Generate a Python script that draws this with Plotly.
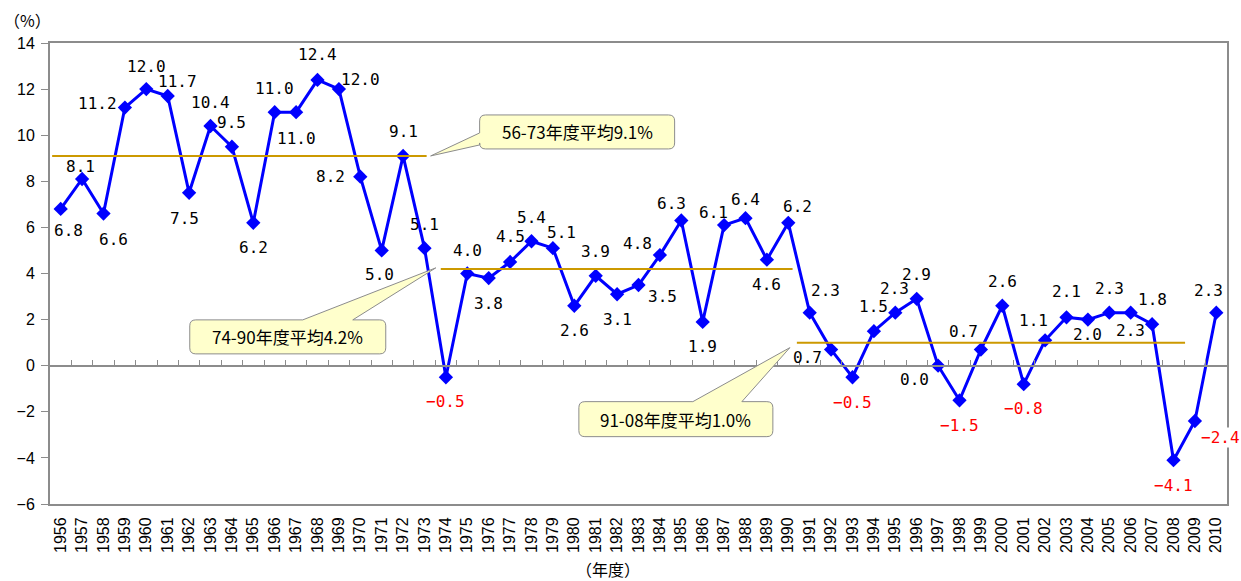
import plotly.graph_objects as go

# Real GDP growth rate by fiscal year (%)
fiscal_years = [
    1956, 1957, 1958, 1959, 1960, 1961, 1962, 1963, 1964, 1965,
    1966, 1967, 1968, 1969, 1970, 1971, 1972, 1973, 1974, 1975,
    1976, 1977, 1978, 1979, 1980, 1981, 1982, 1983, 1984, 1985,
    1986, 1987, 1988, 1989, 1990, 1991, 1992, 1993, 1994, 1995,
    1996, 1997, 1998, 1999, 2000, 2001, 2002, 2003, 2004, 2005,
    2006, 2007, 2008, 2009, 2010,
]
growth_rate = [
    6.8, 8.1, 6.6, 11.2, 12.0, 11.7, 7.5, 10.4, 9.5, 6.2,
    11.0, 11.0, 12.4, 12.0, 8.2, 5.0, 9.1, 5.1, -0.5, 4.0,
    3.8, 4.5, 5.4, 5.1, 2.6, 3.9, 3.1, 3.5, 4.8, 6.3,
    1.9, 6.1, 6.4, 4.6, 6.2, 2.3, 0.7, -0.5, 1.5, 2.3,
    2.9, 0.0, -1.5, 0.7, 2.6, -0.8, 1.1, 2.1, 2.0, 2.3,
    2.3, 1.8, -4.1, -2.4, 2.3,
]

# Period averages
period_first = [1956, 1974, 1991]
period_last = [1973, 1990, 2008]
period_means = [9.1, 4.2, 1.0]
period_texts = ["56-73年度平均9.1%", "74-90年度平均4.2%", "91-08年度平均1.0%"]

y_ticks = [-6, -4, -2, 0, 2, 4, 6, 8, 10, 12, 14]

# Value label placement: pixel offset (right, down) from each marker
label_offsets = [
    (8, 22), (-2, -13), (10, 26), (-27, -4), (0, -23), (10, -15), (-5, 26),
    (0, -23), (0, -24), (0, 25), (0, -24), (0, 26), (0, -25), (22, -10),
    (-30, 0), (-2, 24), (0, -24), (0, -24), (0, 24), (0, -23), (0, 25),
    (0, -25), (0, -24), (9, -16), (0, 25), (0, -24), (0, 25), (24, 11),
    (-22, -12), (-10, -17), (0, 25), (-11, -13), (0, -19), (0, 25), (9, -16),
    (16, -22), (-24, 8), (0, 25), (0, -25), (-1, -24), (0, -24), (-24, 14),
    (0, 25), (-17, -18), (0, -24), (0, 24), (-12, -20), (0, -26), (0, 15),
    (0, -24), (0, 18), (0, -25), (0, 25), (26, 16), (-8, -22),
]

# Average line extents (category units beyond first/last year)
line_pads = [(-0.4, 0.1), (-0.24, 0.2), (-0.6, 0.54)]

# Callout geometry in pixels relative to the anchor end of each average line
callouts = [
    dict(anchor="end", tip=(4, 0), box=(53, 248, 7, 41), side="left", base=(11, 23)),
    dict(anchor="start", tip=(-5, 1), box=(-251, -55, -85, -51), side="top", base=(-138, -88)),
    dict(anchor="start", tip=(-7, -5), box=(-218, -24, -94, -59), side="top", base=(-104, -55)),
]

LINE_BLUE = "#0000FF"
AVG_GOLD = "#CC9900"
FRAME_GRAY = "#8C8C8C"
CALLOUT_FILL = "#FFFFCC"
CJK_FONT = "Noto Sans CJK JP, Noto Sans CJK SC, sans-serif"

cats = [str(y) for y in fiscal_years]


def callout_path(c, r=6):
    L, R, B, T = c["box"]
    tx, ty = c["tip"]
    a, b = c["base"]
    if c["side"] == "left":
        return (
            f"M {L},{T - r} L {L},{b} L {tx},{ty} L {L},{a} L {L},{B + r} "
            f"Q {L},{B} {L + r},{B} L {R - r},{B} Q {R},{B} {R},{B + r} "
            f"L {R},{T - r} Q {R},{T} {R - r},{T} L {L + r},{T} Q {L},{T} {L},{T - r} Z"
        )
    return (
        f"M {L + r},{T} L {a},{T} L {tx},{ty} L {b},{T} L {R - r},{T} "
        f"Q {R},{T} {R},{T - r} L {R},{B + r} Q {R},{B} {R - r},{B} "
        f"L {L + r},{B} Q {L},{B} {L},{B + r} L {L},{T - r} Q {L},{T} {L + r},{T} Z"
    )


fig = go.Figure()

fig.add_trace(go.Scatter(
    x=cats, y=growth_rate, mode="lines+markers",
    line=dict(color=LINE_BLUE, width=3),
    marker=dict(symbol="diamond", size=11, color=LINE_BLUE),
    hoverinfo="x+y", showlegend=False,
))

# Empty trace so the zero-line category axis is drawn
fig.add_trace(go.Scatter(x=[None], y=[None], xaxis="x2", showlegend=False, hoverinfo="skip"))

shapes = []
annotations = []

for first, last, mean, pad, text, c in zip(period_first, period_last, period_means,
                                           line_pads, period_texts, callouts):
    x0 = fiscal_years.index(first) + pad[0]
    x1 = fiscal_years.index(last) + pad[1]
    shapes.append(dict(type="line", xref="x", yref="y", x0=x0, x1=x1, y0=mean, y1=mean,
                       line=dict(color=AVG_GOLD, width=2), layer="above"))
    ax = x1 if c["anchor"] == "end" else x0
    shapes.append(dict(type="path", xref="x", yref="y", xsizemode="pixel", ysizemode="pixel",
                       xanchor=ax, yanchor=mean, path=callout_path(c),
                       fillcolor=CALLOUT_FILL, line=dict(color=FRAME_GRAY, width=1),
                       layer="above"))
    L, R, B, T = c["box"]
    annotations.append(dict(x=ax, y=mean, xref="x", yref="y", text=text, showarrow=False,
                            xanchor="center", yanchor="middle",
                            xshift=(L + R) / 2, yshift=(B + T) / 2,
                            font=dict(family=CJK_FONT, size=17, color="#000000")))

# Value labels, positioned by category index so numeric-looking names are not misread
for i, (v, (dx, dy)) in enumerate(zip(growth_rate, label_offsets)):
    txt = f"{v:.1f}".replace("-", "−")
    outside = i == len(growth_rate) - 2
    annotations.append(dict(x=i, y=v, xref="x", yref="y", text=txt, showarrow=False,
                            xanchor="center", yanchor="middle",
                            xshift=dx, yshift=-dy,
                            bgcolor="white" if outside else None, borderpad=0,
                            font=dict(family="DejaVu Sans Mono", size=16,
                                      color="#FF0000" if v < 0 else "#000000")))

annotations.append(dict(x=-0.0195, y=1.05, xref="paper", yref="paper", text="（%）",
                        xanchor="center", yanchor="middle", showarrow=False,
                        font=dict(family=CJK_FONT, size=16, color="#000000")))
annotations.append(dict(x=0.474, y=-0.141, xref="paper", yref="paper", text="（年度）",
                        xanchor="center", yanchor="middle", showarrow=False,
                        font=dict(family=CJK_FONT, size=16, color="#000000")))

fig.update_layout(
    width=1241, height=581,
    margin=dict(l=50, r=14, t=43, b=77),
    paper_bgcolor="white", plot_bgcolor="white",
    shapes=shapes, annotations=annotations,
    xaxis=dict(
        type="category", categoryorder="array", categoryarray=cats,
        range=[-0.5, len(cats) - 0.5],
        showline=True, linecolor=FRAME_GRAY, linewidth=2, mirror=True,
        ticks="", tickangle=-90, showgrid=False, zeroline=False,
        ticklabelstandoff=5,
        tickfont=dict(family="Liberation Sans", size=16, color="#000000"),
    ),
    xaxis2=dict(
        overlaying="x", anchor="free", position=(0 - y_ticks[0]) / (y_ticks[-1] - y_ticks[0]),
        range=[-0.5, len(cats) - 0.5], tick0=-0.5, dtick=1,
        showline=True, linecolor=FRAME_GRAY, linewidth=2,
        ticks="inside", ticklen=5, tickwidth=1, tickcolor=FRAME_GRAY,
        showticklabels=False, showgrid=False, zeroline=False,
    ),
    yaxis=dict(
        range=[y_ticks[0], y_ticks[-1]], tickvals=y_ticks,
        showline=True, linecolor=FRAME_GRAY, linewidth=2, mirror=True,
        ticks="outside", ticklen=7, tickcolor=FRAME_GRAY,
        showgrid=False, zeroline=False, ticklabelstandoff=3,
        tickfont=dict(family="Liberation Sans", size=16, color="#000000"),
    ),
)

fig.write_html("out.html")
